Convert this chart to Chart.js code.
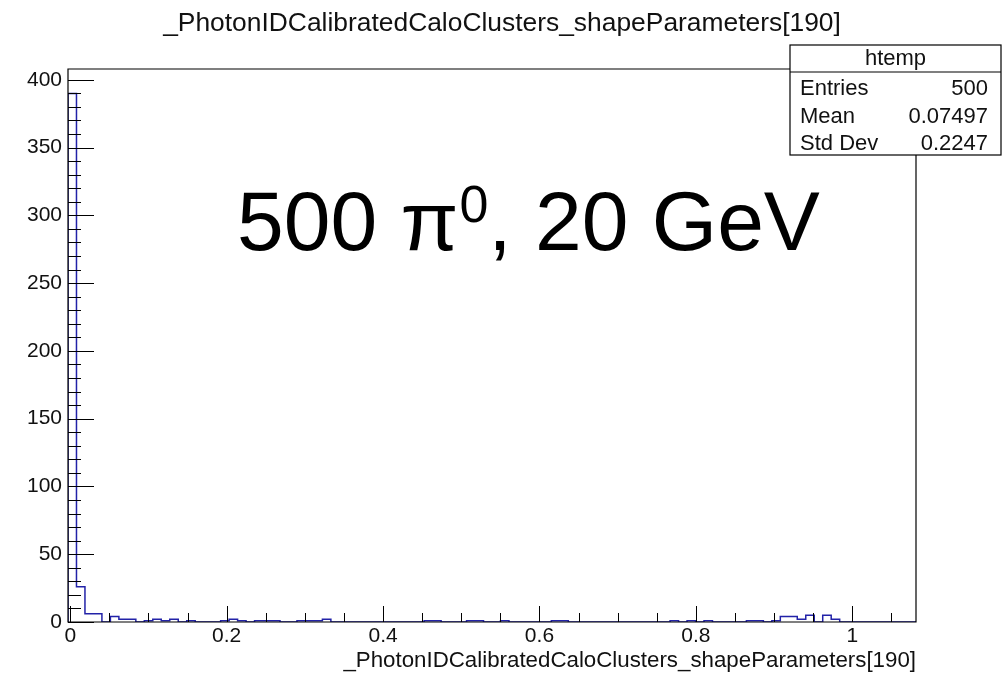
<!DOCTYPE html>
<html>
<head>
<meta charset="utf-8">
<script src="https://cdn.jsdelivr.net/npm/chart.js@4.4.1/dist/chart.umd.min.js"></script>
<style>
  html, body { margin: 0; padding: 0; background: #fff; }
  #wrap { width: 1004px; height: 673px; }
</style>
</head>
<body>
<div id="wrap"><canvas id="hist" width="1004" height="673"></canvas></div>
<script>
// histogram range + bin contents (htemp, 100 bins)
var xLow = -0.0029;
var xHigh = 1.0815;
var binCounts = [
  390, 26, 6, 6, 0, 4, 2, 2, 0, 1,
  2, 1, 2, 0, 1, 0, 0, 0, 1, 2,
  1, 0, 1, 1, 1, 0, 0, 1, 1, 1,
  2, 0, 0, 0, 0, 0, 0, 0, 0, 0,
  0, 0, 1, 1, 0, 0, 0, 1, 1, 0,
  0, 1, 0, 0, 0, 0, 0, 1, 1, 0,
  0, 0, 0, 0, 0, 0, 0, 0, 0, 0,
  0, 1, 0, 1, 0, 1, 0, 0, 0, 0,
  1, 1, 0, 1, 4, 4, 2, 5, 0, 5,
  2, 0, 0, 0, 0, 0, 0, 0, 0, 0
];

// axis ticks
var xTickValues = [0, 0.2, 0.4, 0.6, 0.8, 1];
var xTickLabels = ['0', '0.2', '0.4', '0.6', '0.8', '1'];
var yTickValues = [0, 50, 100, 150, 200, 250, 300, 350, 400];
var yMax = 408;

// stats box
var histName = 'htemp';
var statsNames = ['Entries', 'Mean', 'Std Dev'];
var statsValues = ['500', '0.07497', '0.2247'];

var varName = '_PhotonIDCalibratedCaloClusters_shapeParameters[190]';
var FONT = '"Liberation Sans", Arial, Helvetica, sans-serif';

// step outline points from bin edges
var binWidth = (xHigh - xLow) / binCounts.length;
var outline = [{ x: xLow, y: 0 }];
for (var i = 0; i < binCounts.length; i++) {
  outline.push({ x: xLow + i * binWidth, y: binCounts[i] });
}
outline.push({ x: xHigh, y: binCounts[binCounts.length - 1] });
outline.push({ x: xHigh, y: 0 });

// ROOT style frame with ticks pointing inward
var rootAxes = {
  id: 'rootAxes',
  afterDatasetsDraw: function (chart) {
    var ctx = chart.ctx;
    var a = chart.chartArea;
    var xs = chart.scales.x;
    var ys = chart.scales.y;
    ctx.save();
    ctx.strokeStyle = '#000';
    ctx.lineWidth = 1.2;
    ctx.beginPath();
    ctx.rect(a.left, a.top, a.right - a.left, a.bottom - a.top);
    ctx.stroke();

    ctx.lineWidth = 1;
    ctx.beginPath();
    for (var v = 0; v <= yMax; v += 10) {
      var py = Math.round(ys.getPixelForValue(v)) + 0.5;
      var len = (v % 50 === 0) ? 26 : 13;
      ctx.moveTo(a.left, py);
      ctx.lineTo(a.left + len, py);
    }
    for (var k = 0; k * 0.05 <= xHigh; k++) {
      var px = Math.round(xs.getPixelForValue(k * 0.05)) + 0.5;
      var h = (k % 4 === 0) ? 16 : 9;
      ctx.moveTo(px, a.bottom);
      ctx.lineTo(px, a.bottom - h);
    }
    ctx.stroke();
    ctx.restore();
  },
  afterDraw: function (chart) {
    var ctx = chart.ctx;
    ctx.save();

    // stats box
    var bx = 790, by = 45, bw = 211, bh = 110, hh = 27;
    ctx.fillStyle = '#fff';
    ctx.fillRect(bx, by, bw, bh);
    ctx.strokeStyle = '#000';
    ctx.lineWidth = 1.2;
    ctx.strokeRect(bx, by, bw, bh);
    ctx.beginPath();
    ctx.moveTo(bx, by + hh);
    ctx.lineTo(bx + bw, by + hh);
    ctx.stroke();

    ctx.fillStyle = '#111';
    ctx.font = '22px ' + FONT;
    ctx.textBaseline = 'alphabetic';
    ctx.textAlign = 'center';
    ctx.fillText(histName, bx + bw / 2, by + 20);
    for (var r = 0; r < statsNames.length; r++) {
      var yy = by + 50 + r * 27.5;
      ctx.textAlign = 'left';
      ctx.fillText(statsNames[r], bx + 10, yy);
      ctx.textAlign = 'right';
      ctx.fillText(statsValues[r], bx + bw - 13, yy);
    }

    // slide annotation
    ctx.fillStyle = '#000';
    ctx.textAlign = 'left';
    var big = '84px ' + FONT;
    var small = '52px ' + FONT;
    var tx = 237, ty = 250;
    ctx.font = big;
    ctx.fillText('500 \u03c0', tx, ty);
    tx += ctx.measureText('500 \u03c0').width + 1;
    ctx.font = small;
    ctx.fillText('0', tx, ty - 28);
    tx += ctx.measureText('0').width;
    ctx.font = big;
    ctx.fillText(', 20 GeV', tx, ty);
    ctx.restore();
  }
};

var chart = new Chart(document.getElementById('hist'), {
  type: 'line',
  data: {
    datasets: [{
      label: histName,
      data: outline,
      borderColor: '#2222a8',
      borderWidth: 1.5,
      pointRadius: 0,
      stepped: true,
      fill: false,
      tension: 0
    }]
  },
  options: {
    responsive: false,
    animation: false,
    devicePixelRatio: 1,
    layout: { padding: 0 },
    plugins: {
      legend: { display: false },
      tooltip: { enabled: false },
      title: {
        display: true,
        text: varName,
        color: '#111',
        font: { family: FONT, size: 26.4, weight: 'normal', lineHeight: 1.2 },
        padding: { top: 8, bottom: 29.3 }
      }
    },
    scales: {
      x: {
        type: 'linear',
        min: xLow,
        max: xHigh,
        grid: { display: false, drawTicks: false },
        border: { display: false },
        afterBuildTicks: function (s) {
          s.ticks = xTickValues.map(function (v) { return { value: v }; });
        },
        afterFit: function (s) { s.height = 51; },
        ticks: {
          autoSkip: false,
          maxRotation: 0,
          padding: 2,
          color: '#111',
          font: { family: FONT, size: 21 },
          callback: function (v) { return xTickLabels[xTickValues.indexOf(v)]; }
        },
        title: {
          display: true,
          text: varName,
          align: 'end',
          color: '#111',
          font: { family: FONT, size: 22.3 },
          padding: { top: 0, bottom: -1 }
        }
      },
      y: {
        type: 'linear',
        min: 0,
        max: yMax,
        grid: { display: false, drawTicks: false },
        border: { display: false },
        afterBuildTicks: function (s) {
          s.ticks = yTickValues.map(function (v) { return { value: v }; });
        },
        afterFit: function (s) { s.width = 68; },
        ticks: {
          padding: 6,
          color: '#111',
          font: { family: FONT, size: 21 }
        }
      },
      // empty right margin (keeps the title centred on the whole canvas)
      margin: {
        type: 'linear',
        position: 'right',
        display: true,
        grid: { display: false, drawTicks: false },
        border: { display: false },
        ticks: { display: false },
        afterFit: function (s) { s.width = 88; }
      }
    }
  },
  plugins: [rootAxes]
});
</script>
</body>
</html>
